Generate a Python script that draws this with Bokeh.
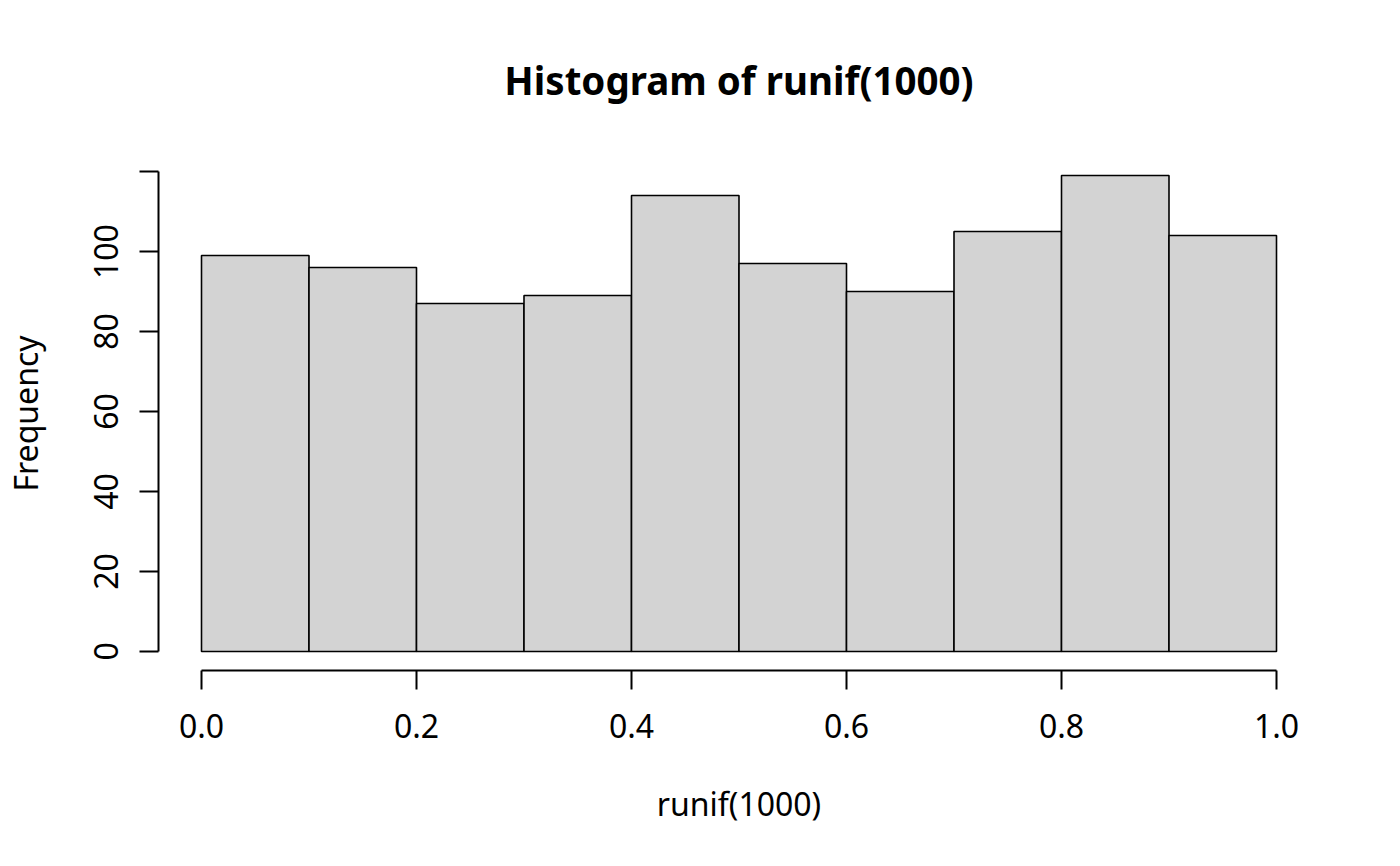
from bokeh.plotting import figure
from bokeh.models import Range1d, LinearAxis, FixedTicker, Title
from bokeh.embed import file_html
from bokeh.resources import INLINE

# data
breaks = [0.0, 0.1, 0.2, 0.3, 0.4, 0.5, 0.6, 0.7, 0.8, 0.9, 1.0]
counts = [99, 96, 87, 89, 114, 97, 90, 105, 119, 104]
x_ticks = [0.0, 0.2, 0.4, 0.6, 0.8, 1.0]
x_tick_labels = ["0.0", "0.2", "0.4", "0.6", "0.8", "1.0"]
y_ticks = [0, 20, 40, 60, 80, 100, 120]
y_tick_labels = ["0", "20", "40", "60", "80", "100", ""]

FONT = "Noto Sans"

p = figure(width=1392, height=858, output_backend="svg", toolbar_location=None,
           x_range=Range1d(-0.04, 1.04), y_range=Range1d(-4.76, 123.76),
           x_axis_type=None, y_axis_type=None,
           min_border_left=158, min_border_right=73, min_border_top=156, min_border_bottom=188)
p.outline_line_color = None
p.xgrid.visible = False
p.ygrid.visible = False
p.background_fill_color = "white"
p.border_fill_color = "white"

p.quad(left=breaks[:-1], right=breaks[1:], top=counts, bottom=0,
       fill_color="#d3d3d3", line_color="black", line_width=1.6)

xa = LinearAxis(ticker=FixedTicker(ticks=x_ticks), bounds=(0, 1),
                major_label_overrides={t: l for t, l in zip(x_ticks, x_tick_labels)},
                axis_label="runif(1000)")
ya = LinearAxis(ticker=FixedTicker(ticks=y_ticks), bounds=(0, 120),
                major_label_overrides={t: l for t, l in zip(y_ticks, y_tick_labels)},
                axis_label="Frequency", major_label_orientation="vertical")
for ax in (xa, ya):
    ax.axis_line_color = "black"
    ax.axis_line_width = 2
    ax.major_tick_line_color = "black"
    ax.major_tick_line_width = 2
    ax.major_tick_out = 19
    ax.major_tick_in = 0
    ax.minor_tick_out = 0
    ax.minor_tick_in = 0
    ax.major_label_text_font = FONT
    ax.major_label_text_font_size = "32px"
    ax.major_label_text_color = "black"
    ax.axis_label_text_font = FONT
    ax.axis_label_text_font_size = "32px"
    ax.axis_label_text_font_style = "normal"
    ax.axis_label_text_color = "black"
xa.major_label_standoff = 24
xa.axis_label_standoff = 41
ya.major_label_standoff = 21
ya.axis_label_standoff = 45
p.add_layout(xa, "below")
p.add_layout(ya, "left")

t = Title(text="Histogram of runif(1000)", align="center", text_font=FONT,
          text_font_size="38.5px", text_font_style="bold", text_color="black",
          standoff=101)
p.add_layout(t, "above")

open("out.html", "w").write(file_html(p, INLINE))
